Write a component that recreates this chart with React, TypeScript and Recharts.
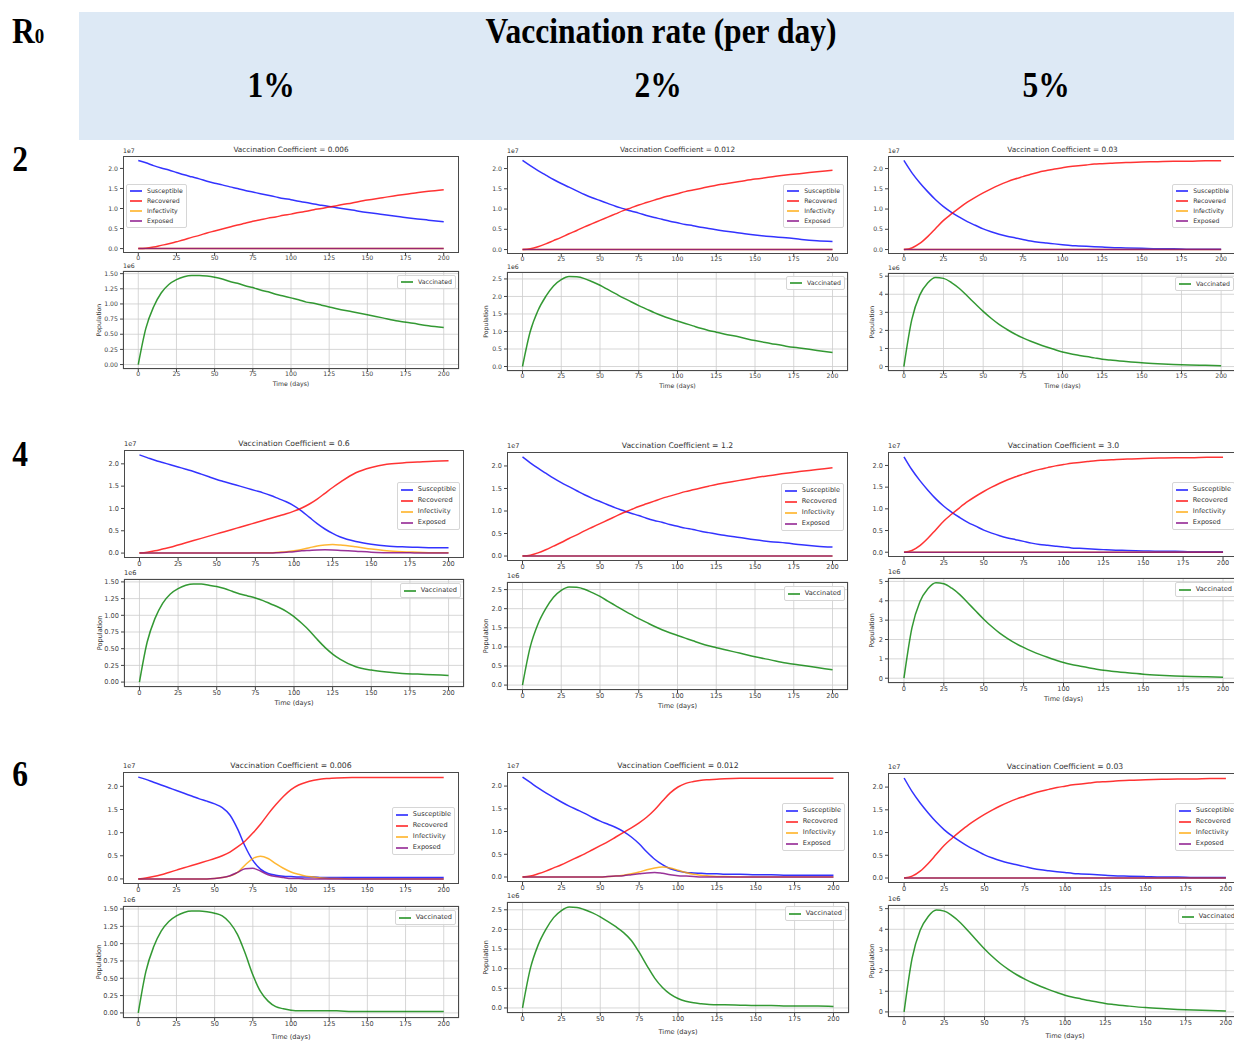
import React from 'react';
import { LineChart, Line, XAxis, YAxis, CartesianGrid, Legend } from 'recharts';

// ---- data (S, R, I, E in units of 1e7; Vaccinated in units of 1e6) ----
const days = [0, 5, 10, 15, 20, 25, 30, 35, 40, 45, 50, 55, 60, 65, 70, 75, 80, 85, 90, 95, 100, 105, 110, 115, 120, 125, 130, 140, 150, 160, 170, 180, 190, 200];
const dayTicks = [0, 25, 50, 75, 100, 125, 150, 175, 200];
const rateLabels = ['1%', '2%', '5%'];
const r0Labels = ['2', '4', '6'];
const coefficients = ['0.006', '0.012', '0.03', '0.6', '1.2', '3.0', '0.006', '0.012', '0.03'];

const none = [0, 0, 0, 0, 0, 0, 0, 0, 0, 0, 0, 0, 0, 0, 0, 0, 0, 0, 0, 0, 0, 0, 0, 0, 0, 0, 0, 0, 0, 0, 0, 0, 0, 0];

// R0 = 2, 1%
const susceptibleA = [2.20, 2.14, 2.07, 2.01, 1.96, 1.90, 1.84, 1.79, 1.74, 1.68, 1.63, 1.59, 1.54, 1.50, 1.45, 1.41, 1.37, 1.33, 1.29, 1.25, 1.22, 1.18, 1.15, 1.11, 1.08, 1.05, 1.02, 0.96, 0.90, 0.85, 0.80, 0.75, 0.71, 0.67];
const recoveredA = [0, 0.01, 0.04, 0.08, 0.12, 0.17, 0.22, 0.28, 0.33, 0.39, 0.44, 0.49, 0.54, 0.59, 0.63, 0.68, 0.72, 0.76, 0.79, 0.83, 0.86, 0.90, 0.93, 0.97, 1.00, 1.04, 1.07, 1.14, 1.21, 1.27, 1.33, 1.38, 1.43, 1.47];
const vaccinatedA = [0, 0.60, 0.95, 1.18, 1.32, 1.40, 1.45, 1.47, 1.47, 1.46, 1.44, 1.41, 1.37, 1.34, 1.30, 1.27, 1.23, 1.20, 1.16, 1.13, 1.10, 1.07, 1.03, 1.01, 0.98, 0.95, 0.92, 0.87, 0.82, 0.77, 0.72, 0.68, 0.64, 0.61];

// R0 = 2 and 4, 2%
const susceptibleB = [2.20, 2.07, 1.95, 1.84, 1.73, 1.63, 1.54, 1.45, 1.36, 1.28, 1.21, 1.14, 1.07, 1.01, 0.95, 0.90, 0.84, 0.79, 0.75, 0.70, 0.66, 0.62, 0.59, 0.55, 0.52, 0.49, 0.46, 0.41, 0.36, 0.32, 0.29, 0.25, 0.22, 0.20];
const recoveredB = [0, 0.02, 0.07, 0.14, 0.22, 0.30, 0.39, 0.47, 0.56, 0.64, 0.72, 0.80, 0.88, 0.96, 1.03, 1.10, 1.16, 1.22, 1.28, 1.33, 1.38, 1.43, 1.47, 1.51, 1.55, 1.59, 1.62, 1.68, 1.74, 1.79, 1.84, 1.88, 1.92, 1.96];
const vaccinatedB = [0, 1.00, 1.60, 2.00, 2.30, 2.48, 2.57, 2.56, 2.51, 2.42, 2.32, 2.20, 2.08, 1.96, 1.85, 1.74, 1.64, 1.54, 1.45, 1.37, 1.30, 1.23, 1.16, 1.09, 1.03, 0.98, 0.93, 0.84, 0.74, 0.66, 0.58, 0.52, 0.46, 0.40];

// 5% (all R0)
const susceptibleC = [2.20, 1.90, 1.65, 1.43, 1.23, 1.06, 0.92, 0.80, 0.69, 0.60, 0.51, 0.44, 0.38, 0.33, 0.29, 0.25, 0.21, 0.18, 0.16, 0.14, 0.12, 0.10, 0.09, 0.08, 0.07, 0.06, 0.05, 0.04, 0.03, 0.02, 0.02, 0.01, 0.01, 0.01];
const recoveredC = [0, 0.04, 0.15, 0.32, 0.52, 0.72, 0.88, 1.03, 1.17, 1.29, 1.40, 1.50, 1.59, 1.67, 1.74, 1.80, 1.86, 1.91, 1.95, 1.99, 2.02, 2.05, 2.07, 2.09, 2.11, 2.12, 2.13, 2.15, 2.16, 2.17, 2.18, 2.18, 2.19, 2.19];
const vaccinatedC = [0, 2.60, 3.95, 4.62, 4.93, 4.88, 4.65, 4.32, 3.90, 3.47, 3.05, 2.67, 2.33, 2.05, 1.80, 1.59, 1.40, 1.23, 1.08, 0.94, 0.81, 0.71, 0.63, 0.55, 0.48, 0.41, 0.36, 0.28, 0.21, 0.16, 0.12, 0.09, 0.07, 0.05];

// R0 = 4, 1%
const susceptibleD = [2.20, 2.14, 2.08, 2.03, 1.98, 1.93, 1.88, 1.83, 1.77, 1.71, 1.65, 1.60, 1.55, 1.50, 1.45, 1.40, 1.35, 1.29, 1.22, 1.15, 1.06, 0.94, 0.80, 0.66, 0.54, 0.44, 0.36, 0.26, 0.20, 0.16, 0.14, 0.13, 0.12, 0.12];
const recoveredD = [0, 0.02, 0.05, 0.09, 0.13, 0.18, 0.23, 0.28, 0.33, 0.38, 0.43, 0.48, 0.53, 0.58, 0.63, 0.68, 0.73, 0.78, 0.83, 0.88, 0.94, 1.01, 1.10, 1.21, 1.34, 1.47, 1.59, 1.80, 1.92, 1.99, 2.02, 2.04, 2.06, 2.07];
const infectedD = [0, 0, 0, 0, 0, 0, 0, 0, 0, 0, 0, 0, 0, 0, 0, 0.01, 0.01, 0.01, 0.02, 0.03, 0.05, 0.08, 0.12, 0.16, 0.18, 0.19, 0.18, 0.14, 0.09, 0.05, 0.03, 0.02, 0.01, 0.01];
const exposedD = [0, 0, 0, 0, 0, 0, 0, 0, 0, 0, 0, 0, 0, 0, 0, 0, 0, 0, 0.01, 0.02, 0.03, 0.05, 0.06, 0.07, 0.075, 0.07, 0.06, 0.04, 0.02, 0.01, 0.01, 0, 0, 0];
const vaccinatedD = [0, 0.60, 0.95, 1.18, 1.32, 1.40, 1.45, 1.47, 1.47, 1.45, 1.43, 1.40, 1.36, 1.32, 1.29, 1.26, 1.22, 1.17, 1.12, 1.06, 0.98, 0.88, 0.77, 0.64, 0.52, 0.42, 0.34, 0.23, 0.18, 0.15, 0.13, 0.12, 0.11, 0.10];

// R0 = 6, 1%
const susceptibleG = [2.20, 2.15, 2.09, 2.03, 1.97, 1.91, 1.85, 1.79, 1.73, 1.68, 1.62, 1.54, 1.38, 1.08, 0.70, 0.40, 0.21, 0.12, 0.08, 0.06, 0.05, 0.04, 0.04, 0.04, 0.03, 0.03, 0.03, 0.03, 0.03, 0.03, 0.03, 0.03, 0.03, 0.03];
const recoveredG = [0, 0.02, 0.05, 0.09, 0.14, 0.19, 0.24, 0.29, 0.34, 0.39, 0.44, 0.50, 0.58, 0.69, 0.82, 0.99, 1.18, 1.40, 1.60, 1.78, 1.93, 2.03, 2.09, 2.13, 2.16, 2.17, 2.18, 2.19, 2.19, 2.19, 2.19, 2.19, 2.19, 2.19];
const infectedG = [0, 0, 0, 0, 0, 0, 0, 0, 0, 0, 0.01, 0.03, 0.06, 0.14, 0.30, 0.44, 0.49, 0.44, 0.33, 0.23, 0.15, 0.10, 0.06, 0.04, 0.02, 0.01, 0.01, 0, 0, 0, 0, 0, 0, 0];
const exposedG = [0, 0, 0, 0, 0, 0, 0, 0, 0, 0, 0.01, 0.03, 0.07, 0.14, 0.22, 0.23, 0.17, 0.09, 0.05, 0.03, 0.01, 0.01, 0, 0, 0, 0, 0, 0, 0, 0, 0, 0, 0, 0];
const vaccinatedG = [0, 0.60, 0.95, 1.18, 1.32, 1.40, 1.45, 1.47, 1.47, 1.46, 1.44, 1.40, 1.30, 1.13, 0.86, 0.55, 0.31, 0.17, 0.09, 0.06, 0.04, 0.03, 0.03, 0.03, 0.03, 0.03, 0.03, 0.02, 0.02, 0.02, 0.02, 0.02, 0.02, 0.02];

// R0 = 6, 2%
const susceptibleH = [2.20, 2.08, 1.96, 1.85, 1.75, 1.65, 1.56, 1.48, 1.40, 1.31, 1.23, 1.16, 1.09, 1.00, 0.88, 0.73, 0.55, 0.39, 0.27, 0.18, 0.13, 0.10, 0.09, 0.08, 0.07, 0.07, 0.06, 0.06, 0.05, 0.05, 0.04, 0.04, 0.04, 0.04];
const recoveredH = [0, 0.02, 0.07, 0.13, 0.20, 0.27, 0.35, 0.43, 0.51, 0.60, 0.69, 0.78, 0.88, 0.98, 1.08, 1.19, 1.32, 1.48, 1.67, 1.85, 1.98, 2.06, 2.10, 2.13, 2.14, 2.15, 2.16, 2.17, 2.17, 2.17, 2.17, 2.17, 2.17, 2.17];
const infectedH = [0, 0, 0, 0, 0, 0, 0, 0, 0, 0, 0, 0.01, 0.02, 0.04, 0.07, 0.11, 0.16, 0.20, 0.22, 0.20, 0.15, 0.10, 0.06, 0.04, 0.02, 0.01, 0.01, 0, 0, 0, 0, 0, 0, 0];
const exposedH = [0, 0, 0, 0, 0, 0, 0, 0, 0, 0, 0, 0.01, 0.02, 0.03, 0.05, 0.07, 0.09, 0.10, 0.08, 0.05, 0.03, 0.02, 0.01, 0, 0, 0, 0, 0, 0, 0, 0, 0, 0, 0];
const vaccinatedH = [0, 1.00, 1.60, 2.00, 2.30, 2.48, 2.57, 2.56, 2.50, 2.42, 2.32, 2.20, 2.07, 1.92, 1.72, 1.42, 1.08, 0.76, 0.52, 0.35, 0.24, 0.17, 0.13, 0.11, 0.09, 0.08, 0.08, 0.07, 0.06, 0.06, 0.05, 0.05, 0.05, 0.04];

const panelSeries = [
  { s: susceptibleA, r: recoveredA, i: none, e: none, v: vaccinatedA },
  { s: susceptibleB, r: recoveredB, i: none, e: none, v: vaccinatedB },
  { s: susceptibleC, r: recoveredC, i: none, e: none, v: vaccinatedC },
  { s: susceptibleD, r: recoveredD, i: infectedD, e: exposedD, v: vaccinatedD },
  { s: susceptibleB, r: recoveredB, i: none, e: none, v: vaccinatedB },
  { s: susceptibleC, r: recoveredC, i: none, e: none, v: vaccinatedC },
  { s: susceptibleG, r: recoveredG, i: infectedG, e: exposedG, v: vaccinatedG },
  { s: susceptibleH, r: recoveredH, i: infectedH, e: exposedH, v: vaccinatedH },
  { s: susceptibleC, r: recoveredC, i: none, e: none, v: vaccinatedC },
];

// vaccinated axis scale per column (1e6)
const vaccPeak = [1.47, 2.57, 4.93];
const vaccTicks = [[0, 0.25, 0.5, 0.75, 1, 1.25, 1.5], [0, 0.5, 1, 1.5, 2, 2.5], [0, 1, 2, 3, 4, 5]];
const vaccDigits = [2, 1, 0];

// ---- layout ----
const layout = [
  { x0: 123, x1: 459, top: [156, 253], bot: [271, 369], legTop: 28, legLeft: true },
  { x0: 507, x1: 848, top: [156, 254], bot: [272, 371], legTop: 28 },
  { x0: 888, x1: 1237, top: [156, 254], bot: [273, 371], legTop: 28 },
  { x0: 124, x1: 464, top: [450, 558], bot: [579, 687], legTop: 32 },
  { x0: 507, x1: 848, top: [452, 561], bot: [582, 690], legTop: 31 },
  { x0: 888, x1: 1239, top: [452, 557], bot: [578, 683], legTop: 30 },
  { x0: 123, x1: 459, top: [772, 884], bot: [906, 1018], legTop: 35 },
  { x0: 507, x1: 849, top: [772, 882], bot: [902, 1013], legTop: 31 },
  { x0: 888, x1: 1242, top: [773, 883], bot: [905, 1017], legTop: 30 },
];
const rowStyle = [
  { fs: 6.2, rowH: 10, xlab: 15 },
  { fs: 6.6, rowH: 11, xlab: 16 },
  { fs: 6.6, rowH: 11, xlab: 19 },
];
const popGap = [24, 21, 16];

const FONT = '"DejaVu Sans", sans-serif';
const SERIF = '"Liberation Serif", "Times New Roman", serif';
const YW = 32;
const XH = 14;
const MT = 5;
const MR = 5;

const seir = [
  { key: 's', name: 'Susceptible', color: '#0000ff' },
  { key: 'r', name: 'Recovered', color: '#ff0000' },
  { key: 'i', name: 'Infectivity', color: '#ffa500' },
  { key: 'e', name: 'Exposed', color: '#800080' },
];
const vacc = [{ key: 'v', name: 'Vaccinated', color: '#008000' }];

const LegendBox = ({ items, fs, rowH }: any) => (
  <div style={{
    background: 'rgba(255,255,255,0.85)', border: '1px solid #d6d6d6', borderRadius: 2,
    padding: '1px 3px', fontFamily: FONT, fontSize: fs, color: '#333', lineHeight: 1,
  }}>
    {items.map((it: any) => (
      <div key={it.name} style={{ display: 'flex', alignItems: 'center', height: rowH, whiteSpace: 'nowrap' }}>
        <svg width={12} height={4} style={{ marginRight: 5, display: 'block' }}>
          <line x1={0} y1={2} x2={12} y2={2} stroke={it.color} strokeOpacity={0.85} strokeWidth={1.6} />
        </svg>
        {it.name}
      </div>
    ))}
  </div>
);

const centered = (x: number, y: number, extra: React.CSSProperties = {}): React.CSSProperties => ({
  position: 'absolute', left: x, top: y, transform: 'translate(-50%, -50%)', whiteSpace: 'nowrap', ...extra,
});

function Panel({ idx }: { idx: number }) {
  const L = layout[idx];
  const row = Math.floor(idx / 3);
  const col = idx % 3;
  const { fs, rowH, xlab } = rowStyle[row];
  const S = panelSeries[idx];
  const rows = days.map((t, k) => ({ t, s: S.s[k], r: S.r[k], i: S.i[k], e: S.e[k], v: S.v[k] }));
  const w = L.x1 - L.x0;
  const hTop = L.top[1] - L.top[0];
  const hBot = L.bot[1] - L.bot[0];
  const peak = vaccPeak[col];
  const tickStyle = { fontSize: fs, fill: '#444', fontFamily: FONT };
  const textStyle: React.CSSProperties = { fontFamily: FONT, fontSize: fs, color: '#333', lineHeight: 1 };

  const xAxis = (
    <XAxis dataKey="t" type="number" domain={[-10, 210]} allowDataOverflow ticks={dayTicks} interval={0}
      height={XH} axisLine={false} tickSize={3} tickMargin={0} tickLine={{ stroke: '#444' }} tick={tickStyle} />
  );
  const frame = (h: number) => (
    <div style={{ position: 'absolute', left: YW, top: MT, width: w, height: h, border: '1px solid #4a4a4a', boxSizing: 'border-box', pointerEvents: 'none' }} />
  );

  const legendTopStyle: React.CSSProperties = L.legLeft
    ? { left: YW + 3, top: MT + L.legTop, width: 'auto', height: 'auto' }
    : { right: MR + 4, top: MT + L.legTop, width: 'auto', height: 'auto' };

  return (
    <>
      <div style={centered((L.x0 + L.x1) / 2, L.top[0] - 7, { fontFamily: FONT, fontSize: fs + 1.1, color: '#333' })}>
        Vaccination Coefficient = {coefficients[idx]}
      </div>
      <div style={{ position: 'absolute', left: L.x0, top: L.top[0] - fs - 2, ...textStyle }}>1e7</div>
      <div style={{ position: 'absolute', left: L.x0, top: L.bot[0] - fs - 2, ...textStyle }}>1e6</div>
      <div style={centered((L.x0 + L.x1) / 2, L.bot[1] + xlab, { ...textStyle })}>Time (days)</div>

      <div style={{ position: 'absolute', left: L.x0 - YW, top: L.top[0] - MT }}>
        <LineChart width={w + YW + MR} height={hTop + MT + XH} data={rows} margin={{ top: MT, right: MR, left: 0, bottom: 0 }}>
          {xAxis}
          <YAxis type="number" domain={[-0.11, 2.31]} allowDataOverflow ticks={[0, 0.5, 1, 1.5, 2]} interval={0}
            tickFormatter={(v: number) => v.toFixed(1)} width={YW} axisLine={false} tickSize={3} tickMargin={2}
            tickLine={{ stroke: '#444' }} tick={tickStyle} />
          {seir.map((d) => (
            <Line key={d.key} dataKey={d.key} name={d.name} type="monotone" stroke={d.color} strokeOpacity={0.8}
              strokeWidth={1.5} dot={false} activeDot={false} isAnimationActive={false} />
          ))}
          <Legend layout="vertical" align="center" verticalAlign="middle" wrapperStyle={legendTopStyle}
            content={() => <LegendBox items={seir} fs={fs} rowH={rowH} />} />
        </LineChart>
        {frame(hTop)}
      </div>

      <div style={{ position: 'absolute', left: L.x0 - YW, top: L.bot[0] - MT }}>
        <LineChart width={w + YW + MR} height={hBot + MT + XH} data={rows} margin={{ top: MT, right: MR, left: 0, bottom: 0 }}>
          <CartesianGrid stroke="#cdcdcd" strokeWidth={0.8} />
          {xAxis}
          <YAxis type="number" domain={[-0.05 * peak, 1.05 * peak]} allowDataOverflow ticks={vaccTicks[col]} interval={0}
            tickFormatter={(v: number) => v.toFixed(vaccDigits[col])} width={YW} axisLine={false} tickSize={3} tickMargin={2}
            tickLine={{ stroke: '#444' }} tick={tickStyle}
            label={{ value: 'Population', angle: -90, position: 'insideLeft', offset: YW - popGap[col],
              style: { textAnchor: 'middle', fontSize: fs, fill: '#333', fontFamily: FONT } }} />
          <Line dataKey="v" name="Vaccinated" type="monotone" stroke="#008000" strokeOpacity={0.8} strokeWidth={1.5}
            dot={false} activeDot={false} isAnimationActive={false} />
          <Legend layout="vertical" align="center" verticalAlign="middle"
            wrapperStyle={{ right: MR + 3, top: MT + 4, width: 'auto', height: 'auto' }}
            content={() => <LegendBox items={vacc} fs={fs} rowH={rowH} />} />
        </LineChart>
        {frame(hBot)}
      </div>
    </>
  );
}

const headStyle: React.CSSProperties = {
  position: 'absolute', fontFamily: SERIF, fontWeight: 'bold', fontSize: 35, lineHeight: 1,
  color: '#000', whiteSpace: 'nowrap', transformOrigin: 'center',
};
const rateX = [271, 658, 1046];
const rowY = [142, 437, 757];

export default function App() {
  return (
    <div style={{ position: 'absolute', left: 0, top: 0, width: 1234, height: 1041, overflow: 'hidden', background: '#fff' }}>
      <div style={{ position: 'absolute', left: 79, top: 12, width: 1155, height: 128, background: '#dde9f5' }} />
      <div style={{ ...headStyle, left: 12, top: 14, transform: 'scaleX(0.9)', transformOrigin: 'left' }}>
        R<span style={{ fontSize: 21 }}>0</span>
      </div>
      <div style={{ ...headStyle, left: 661, top: 14, transform: 'translateX(-50%) scaleX(0.9)' }}>
        Vaccination rate (per day)
      </div>
      {rateLabels.map((r, k) => (
        <div key={r} style={{ ...headStyle, left: rateX[k], top: 68, transform: 'translateX(-50%) scaleX(0.9)' }}>{r}</div>
      ))}
      {r0Labels.map((r, k) => (
        <div key={r} style={{ ...headStyle, left: 20, top: rowY[k], transform: 'translateX(-50%) scaleX(0.9)' }}>{r}</div>
      ))}
      {layout.map((_, idx) => <Panel key={idx} idx={idx} />)}
    </div>
  );
}
